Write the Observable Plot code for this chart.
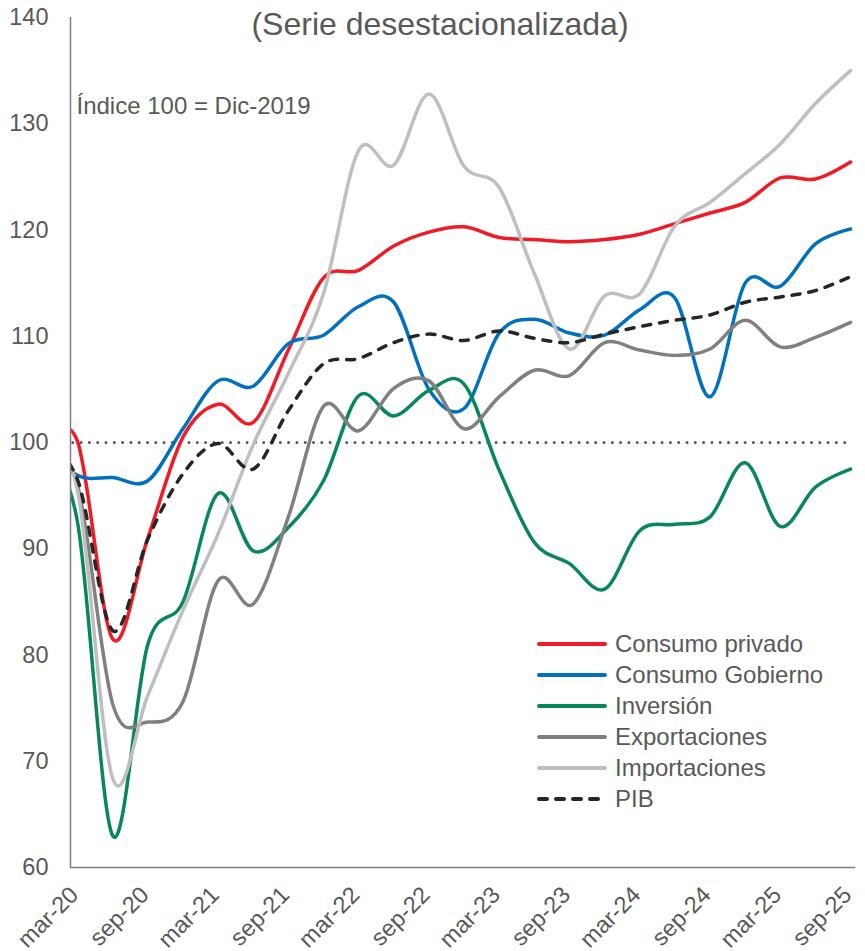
<!DOCTYPE html>
<html>
<head>
<meta charset="utf-8">
<script src="https://cdn.jsdelivr.net/npm/d3@7"></script>
<script src="https://cdn.jsdelivr.net/npm/@observablehq/plot@0.6"></script>
<style>
  html, body { margin: 0; padding: 0; background: #fff; }
  #wrap { position: relative; width: 865px; height: 951px; overflow: hidden; font-family: "Liberation Sans", Arial, sans-serif; }
  #legend { position: absolute; left: 0; top: 0; }
</style>
</head>
<body>
<div id="wrap"></div>
<script>
const quarters = ["dic-19","mar-20","jun-20","sep-20","dic-20","mar-21","jun-21","sep-21","dic-21","mar-22","jun-22","sep-22","dic-22","mar-23","jun-23","sep-23","dic-23","mar-24","jun-24","sep-24","dic-24","mar-25","jun-25","sep-25"];
const tickLabels = ["mar-20","sep-20","mar-21","sep-21","mar-22","sep-22","mar-23","sep-23","mar-24","sep-24","mar-25","sep-25"];
const yTicks = [60, 70, 80, 90, 100, 110, 120, 130, 140];

const consumoPrivado  = [100, 100.1, 81.5, 91.0, 100.5, 103.6, 101.9, 108.7, 115.5, 116.2, 118.5, 119.8, 120.3, 119.3, 119.1, 118.9, 119.1, 119.6, 120.6, 121.6, 122.6, 124.9, 124.8, 126.4];
const consumoGobierno = [100, 96.9, 96.7, 96.4, 101.3, 105.8, 105.3, 109.3, 110.1, 112.8, 113.2, 105.0, 103.2, 110.3, 111.6, 110.3, 110.1, 112.5, 113.6, 104.3, 115.0, 114.7, 118.7, 120.1];
const inversion       = [100, 92.5, 63.0, 81.0, 85.0, 95.2, 89.8, 92.0, 96.4, 104.4, 102.5, 104.9, 105.5, 97.4, 90.6, 88.6, 86.2, 91.7, 92.3, 93.0, 98.1, 92.1, 95.8, 97.5];
const exportaciones   = [100, 96.0, 75.4, 73.7, 75.6, 87.0, 84.8, 93.0, 103.4, 101.1, 105.1, 105.8, 101.3, 104.3, 106.8, 106.3, 109.4, 108.7, 108.2, 108.8, 111.5, 109.0, 109.9, 111.3];
const importaciones   = [100, 95.5, 68.4, 76.2, 84.2, 91.4, 99.8, 106.5, 114.0, 127.5, 126.1, 132.8, 126.0, 124.0, 115.9, 108.8, 113.8, 114.0, 120.4, 122.6, 125.3, 128.1, 131.9, 135.0];
const pib             = [100, 96.5, 82.3, 90.9, 97.05, 99.9, 97.5, 103.0, 107.4, 107.9, 109.4, 110.2, 109.6, 110.5, 109.8, 109.4, 110.2, 110.9, 111.5, 112.0, 113.2, 113.7, 114.3, 115.6];

const seriesNames = ["Consumo privado", "Consumo Gobierno", "Inversión", "Exportaciones", "Importaciones", "PIB"];
const seriesValues = [consumoPrivado, consumoGobierno, inversion, exportaciones, importaciones, pib];
const seriesColors = ["#F21A24", "#0070C0", "#08875A", "#808080", "#BFBFBF", "#262626"];
const seriesDash = [null, null, null, null, null, "8,9"];

const subtitle = "(Serie desestacionalizada)";
const note = "Índice 100 = Dic-2019";

const tickIdx = tickLabels.map(t => quarters.indexOf(t));
const textColor = "#595959";
const font = "Liberation Sans, Arial, sans-serif";

const lineMarks = seriesNames.map((name, k) =>
  Plot.line(seriesValues[k].map((v, i) => ({i, v})), {
    x: "i", y: "v",
    stroke: seriesColors[k],
    strokeWidth: 3.5,
    strokeDasharray: seriesDash[k] || undefined,
    strokeLinecap: "round",
    strokeLinejoin: "round",
    curve: "cardinal",
    tension: 0,
    clip: true
  })
);

const chart = Plot.plot({
  width: 865,
  height: 951,
  marginLeft: 70,
  marginRight: 10,
  marginTop: 17,
  marginBottom: 84,
  style: {fontFamily: font, color: textColor, background: "#fff"},
  x: {type: "linear", domain: [0.8, 23.14], axis: null},
  y: {domain: [60, 140], axis: null},
  marks: [
    Plot.ruleY([100], {x1: 0.88, x2: 23, stroke: "#595959", strokeWidth: 3, strokeDasharray: "0,8.3", strokeLinecap: "round"}),
    ...lineMarks,
    Plot.ruleX([0.8], {stroke: "#7F7F7F", strokeWidth: 1.5}),
    Plot.ruleY([60], {stroke: "#7F7F7F", strokeWidth: 1.5}),
    Plot.axisY({ticks: yTicks, label: null, tickSize: 0, tickPadding: 22, fontSize: 23.5, fill: textColor}),
    Plot.text(tickIdx, {x: d => d, text: d => quarters[d], frameAnchor: "bottom", dx: -3, dy: 23.5, rotate: -45, textAnchor: "end", lineAnchor: "middle", fontSize: 23.5, fill: textColor}),
    Plot.text([note], {frameAnchor: "top-left", dx: 6, dy: 89, textAnchor: "start", lineAnchor: "middle", fontSize: 24, fill: textColor}),
    Plot.text([subtitle], {frameAnchor: "top", dx: -23, dy: 7, lineAnchor: "middle", fontSize: 32, fill: textColor})
  ]
});
document.getElementById("wrap").appendChild(chart);

// legend
const leg = d3.select("#wrap").append("svg")
  .attr("id", "legend").attr("width", 865).attr("height", 951)
  .style("font-family", font);
seriesNames.forEach((name, k) => {
  const cy = 644 + 31 * k;
  leg.append("line")
    .attr("x1", 539).attr("x2", 605).attr("y1", cy).attr("y2", cy)
    .attr("stroke", seriesColors[k]).attr("stroke-width", 4)
    .attr("stroke-linecap", "round")
    .attr("stroke-dasharray", seriesDash[k]);
  leg.append("text")
    .attr("x", 615).attr("y", cy).attr("dy", "0.35em")
    .attr("font-size", 24).attr("fill", textColor)
    .text(name);
});
</script>
</body>
</html>
